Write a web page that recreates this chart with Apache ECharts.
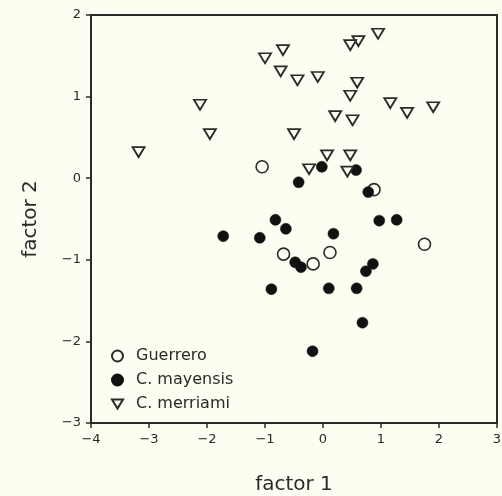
<!DOCTYPE html>
<html>
<head>
<meta charset="utf-8">
<script src="https://cdn.jsdelivr.net/npm/echarts@6/dist/echarts.min.js"></script>
<style>
  html, body { margin: 0; padding: 0; background: #fdfdf1; }
  #chart { width: 502px; height: 496px; }
</style>
</head>
<body>
<div id="chart"></div>
<script>
// factor scores
var guerrero = [
  [-1.05, 0.14], [0.88, -0.14], [1.75, -0.81], [-0.68, -0.93],
  [0.12, -0.91], [-0.17, -1.05]
];
var mayensis = [
  [-0.02, 0.14], [0.57, 0.10], [-0.42, -0.05], [0.78, -0.17],
  [-0.82, -0.51], [-0.64, -0.62], [0.97, -0.52], [1.27, -0.51],
  [-1.72, -0.71], [-1.09, -0.73], [0.18, -0.68], [-0.48, -1.03],
  [-0.38, -1.09], [0.86, -1.05], [0.74, -1.14], [-0.89, -1.36],
  [0.10, -1.35], [0.58, -1.35], [0.68, -1.77], [-0.18, -2.12]
];
var merriami = [
  [-1.00, 1.47], [-0.69, 1.57], [-0.73, 1.31], [-0.44, 1.20],
  [-2.12, 0.90], [-1.95, 0.54], [-0.50, 0.54], [-3.18, 0.32],
  [0.95, 1.77], [0.61, 1.68], [0.47, 1.63], [-0.09, 1.24],
  [0.59, 1.17], [0.47, 1.01], [1.16, 0.92], [1.45, 0.80],
  [1.90, 0.87], [0.21, 0.76], [0.51, 0.71], [0.07, 0.28],
  [0.47, 0.28], [-0.24, 0.11], [0.42, 0.08]
];
var seriesNames = ["Guerrero", "C. mayensis", "C. merriami"];

var ink = "#2a2a2a";
var bg = "#fdfdf1";
var fmt = function (v) { return v < 0 ? "\u2212" + Math.abs(v) : String(v); };

var chart = echarts.init(document.getElementById("chart"));
chart.setOption({
  backgroundColor: bg,
  animation: false,
  grid: {
    left: 91, right: 5, top: 15, bottom: 73, outerBoundsMode: "none",
    show: true, borderColor: ink, borderWidth: 2
  },
  legend: {
    orient: "vertical",
    left: 111, top: 348, padding: 0,
    itemWidth: 11, itemHeight: 11, itemGap: 8,
    textStyle: { fontFamily: "DejaVu Sans", fontSize: 16, color: ink, padding: [0, 0, 0, 8] },
    data: [
      { name: seriesNames[0], icon: "circle" },
      { name: seriesNames[1], icon: "circle" },
      { name: seriesNames[2], icon: "path://M0,0 L12,0 L6,10 Z" }
    ]
  },
  xAxis: {
    type: "value", min: -4, max: 3, interval: 1,
    name: "factor 1", nameLocation: "middle", nameGap: 52,
    nameTextStyle: { fontFamily: "DejaVu Sans", fontSize: 20, color: ink },
    axisLine: { show: true, onZero: false, lineStyle: { color: ink, width: 2 } },
    axisTick: { show: true, inside: false, length: 5, lineStyle: { color: ink, width: 1.5 } },
    axisLabel: { fontFamily: "DejaVu Sans", fontSize: 13, color: ink, margin: 10, formatter: fmt },
    splitLine: { show: false }
  },
  yAxis: {
    type: "value", min: -3, max: 2, interval: 1,
    name: "factor 2", nameLocation: "middle", nameGap: 50,
    nameTextStyle: { fontFamily: "DejaVu Sans", fontSize: 20, color: ink },
    axisLine: { show: true, onZero: false, lineStyle: { color: ink, width: 2 } },
    axisTick: { show: true, inside: false, length: 5, lineStyle: { color: ink, width: 1.5 } },
    axisLabel: { fontFamily: "DejaVu Sans", fontSize: 13, color: ink, margin: 10, formatter: fmt },
    splitLine: { show: false }
  },
  series: [
    {
      name: seriesNames[0], type: "scatter", data: guerrero,
      symbol: "circle", symbolSize: 12,
      itemStyle: { color: bg, borderColor: ink, borderWidth: 1.6, opacity: 1 }
    },
    {
      name: seriesNames[1], type: "scatter", data: mayensis,
      symbol: "circle", symbolSize: 11,
      itemStyle: { color: "#111", borderColor: "#111", borderWidth: 0.5, opacity: 1 }
    },
    {
      name: seriesNames[2], type: "scatter", data: merriami,
      symbol: "triangle", symbolSize: [12, 10], symbolRotate: 180,
      itemStyle: { color: bg, borderColor: ink, borderWidth: 1.8, opacity: 1 }
    }
  ]
});
</script>
</body>
</html>
